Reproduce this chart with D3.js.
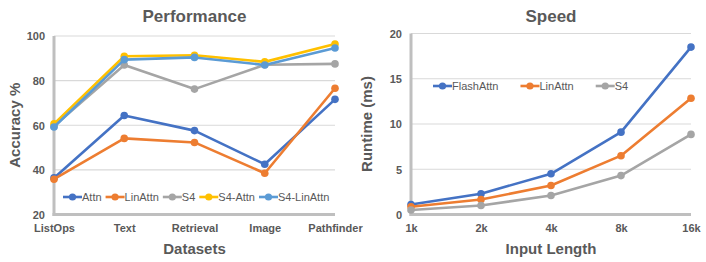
<!DOCTYPE html>
<html>
<head>
<meta charset="utf-8">
<script src="https://cdn.jsdelivr.net/npm/d3@7"></script>
<style>
  body { margin: 0; background: #fff; }
  svg text { font-family: "Liberation Sans", Arial, sans-serif; fill: #595959; font-weight: bold; }
</style>
</head>
<body>
<div class="container"></div>
<script>
//performance chart data
var datasets = ["ListOps", "Text", "Retrieval", "Image", "Pathfinder"];
var perfSeries = ["Attn", "LinAttn", "S4", "S4-Attn", "S4-LinAttn"];
var attnAcc = [36.4, 64.4, 57.6, 42.5, 71.6];
var linAttnAcc = [35.8, 54.1, 52.3, 38.5, 76.6];
var s4Acc = [59.6, 87.0, 76.2, 87.1, 87.5];
var s4AttnAcc = [60.6, 90.9, 91.4, 88.4, 96.4];
var s4LinAttnAcc = [59.2, 89.4, 90.4, 87.0, 94.6];
var accTicks = [20, 40, 60, 80, 100];

//speed chart data
var lengths = ["1k", "2k", "4k", "8k", "16k"];
var speedSeries = ["FlashAttn", "LinAttn", "S4"];
var flashTime = [1.1, 2.3, 4.5, 9.1, 18.5];
var linAttnTime = [0.85, 1.65, 3.2, 6.5, 12.85];
var s4Time = [0.5, 1.0, 2.1, 4.3, 8.85];
var timeTicks = [0, 5, 10, 15, 20];

var colors = {
    "Attn": "#4472C4", "FlashAttn": "#4472C4", "LinAttn": "#ED7D31",
    "S4": "#A5A5A5", "S4-Attn": "#FFC000", "S4-LinAttn": "#5B9BD5"
};

var svg = d3.select(".container").append("svg")
    .attr("width", 706)
    .attr("height", 262);

/**
 * Draws one line chart panel
 */
function drawPanel(opts) {
    var g = svg.append("g");

    var x = d3.scalePoint()
        .domain(opts.cats)
        .range([opts.x0, opts.x1]);
    var y = d3.scaleLinear()
        .domain([opts.ticks[0], opts.ticks[opts.ticks.length - 1]])
        .range([opts.y0, opts.y1]);

    //gridlines
    g.selectAll(".grid")
        .data(opts.ticks.slice(1))
        .enter()
        .append("line")
        .attr("x1", opts.x0)
        .attr("x2", opts.x1)
        .attr("y1", function (d) { return y(d); })
        .attr("y2", function (d) { return y(d); })
        .style("stroke", "#D9D9D9")
        .style("stroke-width", 1.2);

    //thick axis lines
    g.append("line")
        .attr("x1", opts.x0).attr("x2", opts.x0)
        .attr("y1", y.range()[1]).attr("y2", opts.y0 + 1.5)
        .style("stroke", "#BFBFBF").style("stroke-width", 3);
    g.append("line")
        .attr("x1", opts.x0 - 1.5).attr("x2", opts.x1)
        .attr("y1", opts.y0).attr("y2", opts.y0)
        .style("stroke", "#BFBFBF").style("stroke-width", 3);

    //y tick labels
    var yAxis = d3.axisLeft(y).tickValues(opts.ticks).tickSize(0).tickPadding(0);
    var ya = g.append("g")
        .attr("transform", "translate(" + (opts.x0 - 9) + ",0)")
        .call(yAxis);
    ya.select(".domain").remove();
    ya.selectAll("text").style("font-size", "11px").style("font-family", null).attr("dy", "0.35em");

    //x tick labels
    var xAxis = d3.axisBottom(x).tickSize(0).tickPadding(0);
    var xa = g.append("g")
        .attr("transform", "translate(0," + (opts.y0 + 10) + ")")
        .call(xAxis);
    xa.select(".domain").remove();
    xa.selectAll("text").style("font-size", "11px").style("font-family", null).attr("dy", "0.71em");

    //lines and markers
    var line = d3.line()
        .x(function (d, i) { return x(opts.cats[i]); })
        .y(function (d) { return y(d); });

    opts.series.forEach(function (name, k) {
        var vals = opts.values[k];
        g.append("path")
            .datum(vals)
            .attr("d", line)
            .style("fill", "none")
            .style("stroke", colors[name])
            .style("stroke-width", 2.6)
            .style("stroke-linejoin", "round");
        g.selectAll(".dot" + k)
            .data(vals)
            .enter()
            .append("circle")
            .attr("cx", function (d, i) { return x(opts.cats[i]); })
            .attr("cy", function (d) { return y(d); })
            .attr("r", 3.8)
            .style("fill", colors[name]);
    });

    //legend
    var lx = opts.legendX;
    opts.series.forEach(function (name, k) {
        var lg = g.append("g").attr("transform", "translate(" + lx + "," + opts.legendY + ")");
        lg.append("line")
            .attr("x1", 0).attr("x2", 19)
            .style("stroke", colors[name]).style("stroke-width", 2.6);
        lg.append("circle").attr("cx", 9.5).attr("r", 3.6).style("fill", colors[name]);
        var t = lg.append("text")
            .attr("x", 19)
            .attr("dy", "0.35em")
            .style("font-size", "11px")
            .style("font-weight", "normal")
            .text(name);
        lx += 19 + t.node().getComputedTextLength() + opts.legendGap;
    });

    //title
    g.append("text")
        .attr("x", (opts.x0 + opts.x1) / 2)
        .attr("y", 22)
        .attr("text-anchor", "middle")
        .style("font-size", "17px")
        .text(opts.title);

    //axis titles
    g.append("text")
        .attr("x", (opts.x0 + opts.x1) / 2)
        .attr("y", 254)
        .attr("text-anchor", "middle")
        .style("font-size", "15px")
        .text(opts.xTitle);
    g.append("text")
        .attr("transform", "translate(" + opts.yTitleX + "," + ((opts.y0 + y.range()[1]) / 2) + ") rotate(-90)")
        .attr("text-anchor", "middle")
        .style("font-size", "15px")
        .text(opts.yTitle);
}

drawPanel({
    cats: datasets,
    series: perfSeries,
    values: [attnAcc, linAttnAcc, s4Acc, s4AttnAcc, s4LinAttnAcc],
    ticks: accTicks,
    x0: 54, x1: 335, y0: 214.5, y1: 36,
    legendX: 63, legendY: 197, legendGap: 4,
    title: "Performance", xTitle: "Datasets", yTitle: "Accuracy %", yTitleX: 20
});

drawPanel({
    cats: lengths,
    series: speedSeries,
    values: [flashTime, linAttnTime, s4Time],
    ticks: timeTicks,
    x0: 411, x1: 691, y0: 214.5, y1: 33.5,
    legendX: 433, legendY: 86, legendGap: 22,
    title: "Speed", xTitle: "Input Length", yTitle: "Runtime (ms)", yTitleX: 372
});
</script>
</body>
</html>
